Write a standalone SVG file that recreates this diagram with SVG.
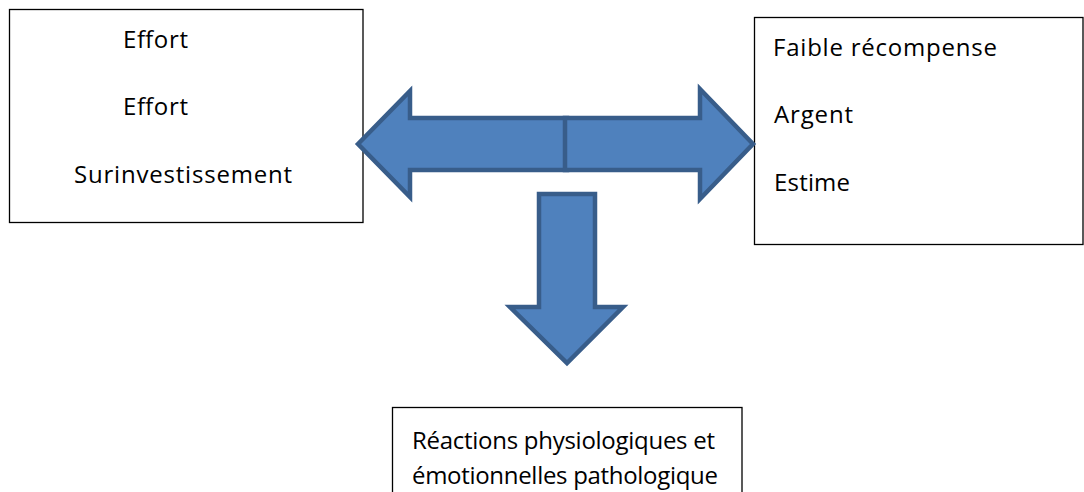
<svg xmlns="http://www.w3.org/2000/svg" width="1084" height="492" viewBox="0 0 1084 492">
<style>
.box{fill:#fff;stroke:#000;stroke-width:1.3}
.arr{fill:#4F81BD;stroke:#385D8A;stroke-width:4.5;stroke-linejoin:miter}
text{font-family:"Open Sans","Liberation Sans",sans-serif;font-size:24px;fill:#000}
</style>
<rect width="1084" height="492" fill="#fff"/>
<g id="node-effort">
<rect class="box" x="9.5" y="9.5" width="353.5" height="213"/>
<text x="123" y="48" textLength="65">Effort</text>
<text x="123" y="115" textLength="65">Effort</text>
<text x="74" y="183" textLength="218">Surinvestissement</text>
</g>
<g id="node-recompense">
<rect class="box" x="754.5" y="17.5" width="328.5" height="227"/>
<text x="773" y="56" textLength="224">Faible récompense</text>
<text x="774" y="123" textLength="79">Argent</text>
<text x="774" y="191" textLength="76">Estime</text>
</g>
<g id="node-reactions">
<rect class="box" x="392.5" y="407.5" width="349.5" height="100"/>
<text x="412" y="449" textLength="303">Réactions physiologiques et</text>
<text x="412" y="484" textLength="306">émotionnelles pathologique</text>
</g>
<g id="connectors">
<polygon class="arr" points="358,144 410,91 410,118 567,118 567,170 410,170 410,197"/>
<polygon class="arr" points="565,118 700,118 700,89 753,144 700,199 700,170 565,170"/>
<polygon class="arr" points="539,194 595,194 595,307 623,307 567,363 510,307 539,307"/>
</g>
</svg>
